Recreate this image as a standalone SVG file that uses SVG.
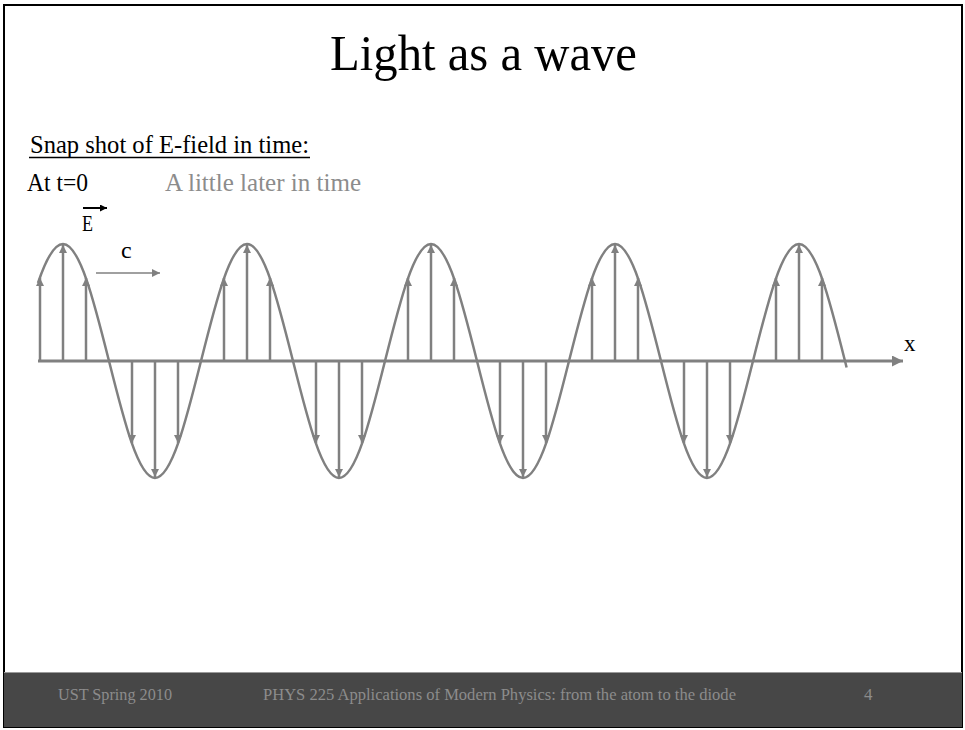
<svg xmlns="http://www.w3.org/2000/svg" width="965" height="730" viewBox="0 0 965 730">
<style>
.serif{font-family:"Liberation Serif","Times New Roman",serif;}
.g{stroke:#808080;fill:none;}
.v{stroke:#808080;stroke-width:2.5;marker-end:url(#ah);}
.foot{font-family:"Liberation Serif","Times New Roman",serif;font-size:17px;fill:#8c8c8c;}
</style>
<defs>
<marker id="ah" viewBox="0 0 10 10" refX="10" refY="5" markerWidth="9" markerHeight="8" orient="auto" markerUnits="userSpaceOnUse">
<path d="M0,0 L10,5 L0,10 z" fill="#808080"/>
</marker>
<marker id="ahx" viewBox="0 0 10 10" refX="10" refY="5" markerWidth="12" markerHeight="11" orient="auto" markerUnits="userSpaceOnUse">
<path d="M0,0 L10,5 L0,10 z" fill="#808080"/>
</marker>
<marker id="ahk" viewBox="0 0 10 10" refX="10" refY="5" markerWidth="9" markerHeight="7" orient="auto" markerUnits="userSpaceOnUse">
<path d="M0,0 L10,5 L0,10 z" fill="#000"/>
</marker>
</defs>
<rect x="0" y="0" width="965" height="730" fill="#fff"/>
<rect x="4" y="5" width="958" height="722" fill="#fff" stroke="#000" stroke-width="2"/>

<g id="title">
<text class="serif" x="330" y="70" font-size="50" textLength="307" lengthAdjust="spacingAndGlyphs" fill="#000">Light as a wave</text>
</g>

<g id="labels">
<text class="serif" x="30" y="153" font-size="26" textLength="279" lengthAdjust="spacingAndGlyphs" fill="#000">Snap shot of E-field in time:</text>
<line x1="29" y1="157.5" x2="310" y2="157.5" stroke="#000" stroke-width="1.6"/>
<text class="serif" x="27" y="191" font-size="26" textLength="61" lengthAdjust="spacingAndGlyphs" fill="#000">At t=0</text>
<text class="serif" x="165" y="191" font-size="26" textLength="196" lengthAdjust="spacingAndGlyphs" fill="#8c8c8c">A little later in time</text>
</g>

<g id="E-label">
<text class="serif" x="82" y="231" font-size="23" textLength="11" lengthAdjust="spacingAndGlyphs" fill="#000">E</text>
<line x1="83" y1="208" x2="107" y2="208" stroke="#000" stroke-width="2" marker-end="url(#ahk)"/>
</g>

<g id="c-label">
<text class="serif" x="121" y="258" font-size="24" fill="#000">c</text>
<line x1="96" y1="273" x2="160" y2="273" stroke="#808080" stroke-width="1.6" marker-end="url(#ah)"/>
</g>

<g id="x-axis">
<line x1="38" y1="361" x2="903" y2="361" stroke="#808080" stroke-width="3" marker-end="url(#ahx)"/>
<text class="serif" x="904" y="351" font-size="23" fill="#000">x</text>
</g>

<g id="wave">
<path class="g" stroke-width="2.5" d="M38,283 C46,259.2 54,244 63,244
C79.65,244 94,301.1 109,361
C124,420.9 138.35,478 155,478
C171.65,478 186,420.9 201,361
C216,301.1 230.35,244 247,244
C263.65,244 278,301.1 293,361
C308,420.9 322.35,478 339,478
C355.65,478 370,420.9 385,361
C400,301.1 414.35,244 431,244
C447.65,244 462,301.1 477,361
C492,420.9 506.35,478 523,478
C539.65,478 554,420.9 569,361
C584,301.1 598.35,244 615,244
C631.65,244 646,301.1 661,361
C676,420.9 690.35,478 707,478
C723.65,478 738,420.9 753,361
C768,301.1 782.35,244 799,244
C815.65,244 830,301.1 845,361
L846.6,367.5"/>
</g>

<g id="field-arrows">
<line class="v" x1="40" y1="361" x2="40" y2="278"/>
<line class="v" x1="63" y1="361" x2="63" y2="245"/>
<line class="v" x1="86" y1="361" x2="86" y2="278"/>
<line class="v" x1="132" y1="361" x2="132" y2="443"/>
<line class="v" x1="155" y1="361" x2="155" y2="477"/>
<line class="v" x1="178" y1="361" x2="178" y2="443"/>
<line class="v" x1="224" y1="361" x2="224" y2="278"/>
<line class="v" x1="247" y1="361" x2="247" y2="245"/>
<line class="v" x1="270" y1="361" x2="270" y2="278"/>
<line class="v" x1="316" y1="361" x2="316" y2="443"/>
<line class="v" x1="339" y1="361" x2="339" y2="477"/>
<line class="v" x1="362" y1="361" x2="362" y2="443"/>
<line class="v" x1="408" y1="361" x2="408" y2="278"/>
<line class="v" x1="431" y1="361" x2="431" y2="245"/>
<line class="v" x1="454" y1="361" x2="454" y2="278"/>
<line class="v" x1="500" y1="361" x2="500" y2="443"/>
<line class="v" x1="523" y1="361" x2="523" y2="477"/>
<line class="v" x1="546" y1="361" x2="546" y2="443"/>
<line class="v" x1="592" y1="361" x2="592" y2="278"/>
<line class="v" x1="615" y1="361" x2="615" y2="245"/>
<line class="v" x1="638" y1="361" x2="638" y2="278"/>
<line class="v" x1="684" y1="361" x2="684" y2="443"/>
<line class="v" x1="707" y1="361" x2="707" y2="477"/>
<line class="v" x1="730" y1="361" x2="730" y2="443"/>
<line class="v" x1="776" y1="361" x2="776" y2="278"/>
<line class="v" x1="799" y1="361" x2="799" y2="245"/>
<line class="v" x1="822" y1="361" x2="822" y2="278"/>
</g>

<g id="footer">
<rect x="4" y="672" width="958" height="55" fill="#474747"/>
<line x1="4" y1="672.5" x2="962" y2="672.5" stroke="#9a9a9a" stroke-width="1"/>
<text class="foot" x="58" y="700" textLength="114" lengthAdjust="spacingAndGlyphs">UST Spring 2010</text>
<text class="foot" x="263" y="700" textLength="473" lengthAdjust="spacingAndGlyphs">PHYS 225 Applications of Modern Physics: from the atom to the diode</text>
<text class="foot" x="864" y="700">4</text>
</g>
</svg>
